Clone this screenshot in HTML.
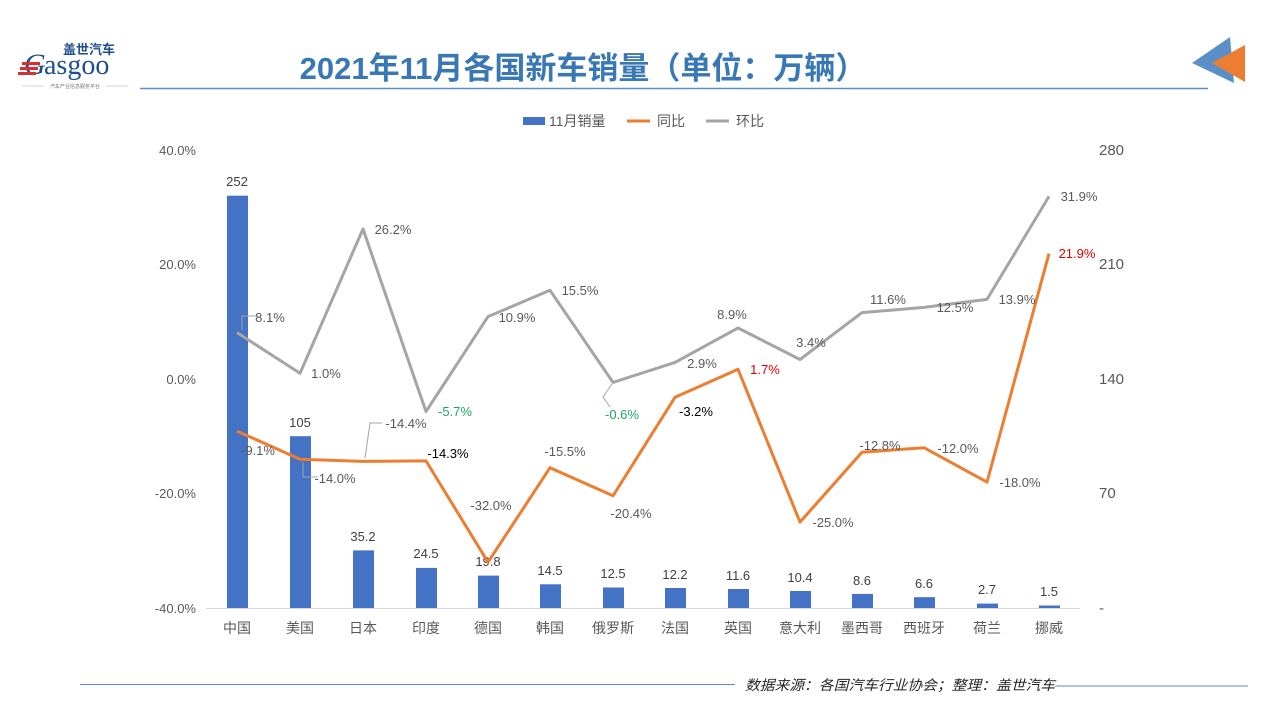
<!DOCTYPE html>
<html><head><meta charset="utf-8"><style>
body{margin:0;background:#fff;}
svg{display:block;font-family:"Liberation Sans","Noto Sans CJK SC",sans-serif;}
</style></head><body>
<svg width="1280" height="720" viewBox="0 0 1280 720" xmlns="http://www.w3.org/2000/svg">
<!-- logo -->
<text x="24" y="74" font-family="Liberation Serif,serif" font-size="30" fill="#1f4e8c" font-style="italic">G</text>
<rect x="22" y="62" width="18" height="3" fill="#d9302b"/><rect x="20" y="67" width="18" height="3" fill="#d9302b"/><rect x="18" y="72" width="18" height="3" fill="#d9302b"/>
<text x="44" y="74" font-family="Liberation Serif,serif" font-size="28" fill="#1f4e8c">asgoo</text>
<text x="63" y="54" font-size="13" font-weight="bold" fill="#1f4e8c" font-family="Liberation Sans,Noto Sans CJK SC,sans-serif">盖世汽车</text>
<line x1="22" y1="86" x2="44" y2="86" stroke="#aaa" stroke-width="0.6"/><line x1="106" y1="86" x2="128" y2="86" stroke="#aaa" stroke-width="0.6"/>
<text x="75" y="88" font-size="5" fill="#777" text-anchor="middle">汽车产业信息服务平台</text>
<!-- title -->
<text x="583" y="79" font-size="31" font-weight="bold" fill="#3a78b5" text-anchor="middle">2021年11月各国新车销量（单位：万辆）</text>
<line x1="140" y1="88.5" x2="1208" y2="88.5" stroke="#5b8fc7" stroke-width="1.5"/>
<polygon points="1192,63 1230,37 1234,83" fill="#5b8fc7"/>
<polygon points="1212,63 1245,45 1245,82" fill="#ed7d31"/>
<!-- legend -->
<rect x="523" y="117" width="22" height="8" fill="#4472c4"/>
<text x="549" y="126" font-size="14" fill="#595959">11月销量</text>
<line x1="627" y1="121" x2="650" y2="121" stroke="#ed7d31" stroke-width="3"/>
<text x="657" y="126" font-size="14" fill="#595959">同比</text>
<line x1="706" y1="121" x2="729" y2="121" stroke="#a5a5a5" stroke-width="3"/>
<text x="736" y="126" font-size="14" fill="#595959">环比</text>
<!-- axes labels -->
<g font-size="13" fill="#595959" text-anchor="end">
<text x="196" y="155">40.0%</text><text x="196" y="269">20.0%</text><text x="196" y="384">0.0%</text><text x="196" y="498">-20.0%</text><text x="196" y="613">-40.0%</text>
</g>
<g font-size="15" fill="#595959">
<text x="1099" y="155">280</text><text x="1099" y="269">210</text><text x="1099" y="384">140</text><text x="1099" y="498">70</text><text x="1099" y="613">-</text>
</g>
<line x1="206" y1="608.5" x2="1080" y2="608.5" stroke="#d9d9d9"/>
<!-- bars -->
<g fill="#4472c4">
<rect x="227" y="195.7" width="21" height="412.3"/>
<rect x="290" y="436.2" width="21" height="171.8"/>
<rect x="353" y="550.4" width="21" height="57.6"/>
<rect x="416" y="567.9" width="21" height="40.1"/>
<rect x="478" y="575.6" width="21" height="32.4"/>
<rect x="540" y="584.3" width="21" height="23.7"/>
<rect x="603" y="587.5" width="21" height="20.5"/>
<rect x="665" y="588" width="21" height="20"/>
<rect x="728" y="589" width="21" height="19"/>
<rect x="790" y="591" width="21" height="17"/>
<rect x="852" y="593.9" width="21" height="14.1"/>
<rect x="914" y="597.2" width="21" height="10.8"/>
<rect x="977" y="603.6" width="21" height="4.4"/>
<rect x="1039" y="605.5" width="21" height="2.5"/>
</g>
<g font-size="13" fill="#404040" text-anchor="middle">
<text x="237" y="186">252</text><text x="300" y="427">105</text><text x="363" y="541">35.2</text><text x="426" y="558">24.5</text><text x="488" y="566">19.8</text><text x="550" y="575">14.5</text><text x="613" y="578">12.5</text><text x="675" y="579">12.2</text><text x="738" y="580">11.6</text><text x="800" y="582">10.4</text><text x="862" y="585">8.6</text><text x="924" y="588">6.6</text><text x="987" y="594">2.7</text><text x="1049" y="596">1.5</text>
</g>
<g font-size="14" fill="#595959" text-anchor="middle">
<text x="237" y="633">中国</text><text x="300" y="633">美国</text><text x="363" y="633">日本</text><text x="426" y="633">印度</text><text x="488" y="633">德国</text><text x="550" y="633">韩国</text><text x="613" y="633">俄罗斯</text><text x="675" y="633">法国</text><text x="738" y="633">英国</text><text x="800" y="633">意大利</text><text x="862" y="633">墨西哥</text><text x="924" y="633">西班牙</text><text x="987" y="633">荷兰</text><text x="1049" y="633">挪威</text>
</g>
<!-- lines -->
<polyline fill="none" stroke="#a5a5a5" stroke-width="3" stroke-linejoin="round" points="237,332.6 300,373.3 363,229 426,411.6 488,316.6 550,290.3 613,382.4 675,362.4 738,328 800,359.5 862,312.6 924,307.4 987,299.4 1049,196.4"/>
<polyline fill="none" stroke="#ed7d31" stroke-width="3" stroke-linejoin="round" points="237,431.1 300,459.2 363,461.4 426,460.9 488,562.2 550,467.7 613,495.8 675,397.3 738,369.3 800,522.1 862,452.3 924,447.7 987,482.1 1049,253.6"/>
<g stroke="#a5a5a5" stroke-width="1" fill="none">
<polyline points="256,316 242,316 242,330"/><polyline points="318,477 303,477 303,462"/><polyline points="382,423 370,423 365,458"/><polyline points="610,407 603,397 612,384"/>
</g>
<g font-size="13" fill="#595959" text-anchor="middle">
<text x="270" y="322">8.1%</text><text x="326" y="378">1.0%</text><text x="393" y="234">26.2%</text><text x="517" y="322">10.9%</text><text x="580" y="295">15.5%</text><text x="702" y="368">2.9%</text><text x="732" y="319">8.9%</text><text x="811" y="347">3.4%</text><text x="888" y="304">11.6%</text><text x="955" y="312">12.5%</text><text x="1017" y="304">13.9%</text><text x="1079" y="201">31.9%</text>
<text x="258" y="455">-9.1%</text><text x="335" y="483">-14.0%</text><text x="406" y="428">-14.4%</text><text x="491" y="510">-32.0%</text><text x="565" y="456">-15.5%</text><text x="631" y="518">-20.4%</text><text x="833" y="527">-25.0%</text><text x="880" y="450">-12.8%</text><text x="958" y="453">-12.0%</text><text x="1020" y="487">-18.0%</text>
</g>
<g font-size="13" text-anchor="middle">
<text x="455" y="416" fill="#21a366">-5.7%</text><text x="622" y="419" fill="#21a366">-0.6%</text>
<text x="448" y="458" fill="#000">-14.3%</text><text x="696" y="416" fill="#000">-3.2%</text>
<text x="765" y="374" fill="#e00000">1.7%</text><text x="1077" y="258" fill="#e00000">21.9%</text>
</g>
<!-- footer -->
<line x1="80" y1="684.5" x2="735" y2="684.5" stroke="#5b8fc7" stroke-width="1"/>
<line x1="1055" y1="686" x2="1248" y2="686" stroke="#5b8fc7" stroke-width="1"/>
<text x="745" y="690" font-size="14" font-style="italic" fill="#262626" textLength="310" lengthAdjust="spacingAndGlyphs">数据来源：各国汽车行业协会；整理：盖世汽车</text>
</svg>
</body></html>
